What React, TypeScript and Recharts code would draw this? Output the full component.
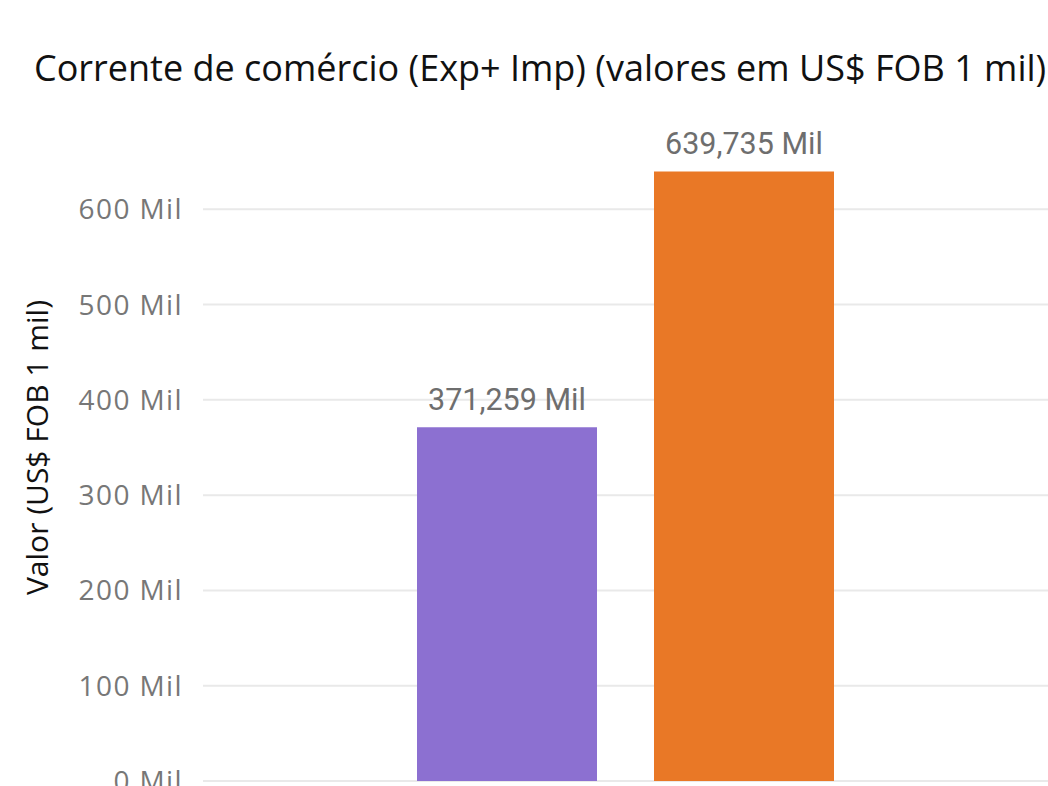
import React from "react";
import { BarChart, Bar, XAxis, YAxis, CartesianGrid, LabelList } from "recharts";

const categories = ["Corrente de comércio"];
const seriesExp = [371.259];
const seriesImp = [639.735];
const yTicks = [0, 100, 200, 300, 400, 500, 600];

const data = categories.map((c, i) => ({ name: c, a: seriesExp[i], b: seriesImp[i] }));

const fmtTick = (v: number) => `${v} Mil`;
const fmtLabel = (v: number) =>
  `${v.toLocaleString("pt-BR", { minimumFractionDigits: 3, maximumFractionDigits: 3 })} Mil`;

export default function App() {
  return (
    <div style={{ position: "fixed", left: 0, top: 0, width: 1048, height: 786, background: "#fff", overflow: "hidden" }}>
      <div
        style={{
          position: "absolute",
          left: 0,
          top: 46,
          width: 1100,
          paddingLeft: 34,
          boxSizing: "border-box",
          fontFamily: "'Open Sans', sans-serif",
          fontSize: 36,
          color: "#111",
          whiteSpace: "nowrap",
          lineHeight: "44px",
        }}
      >
        Corrente de comércio (Exp+ Imp) (valores em US$ FOB 1 mil)
      </div>
      <div style={{ position: "absolute", left: 0, top: 0 }}>
        <BarChart
          width={1048}
          height={786}
          data={data}
          margin={{ top: 114, right: 0, bottom: 5, left: 0 }}
          barCategoryGap={214}
          barGap={57}
        >
          <CartesianGrid vertical={false} stroke="#e9e9e9" strokeWidth={2} horizontalValues={yTicks} />
          <XAxis dataKey="name" hide />
          <YAxis
            domain={[0, 700]}
            ticks={yTicks}
            interval={0}
            tickFormatter={fmtTick}
            axisLine={false}
            tickLine={false}
            width={203}
            tickMargin={14}
            tick={{ fill: "#777", fontSize: 28, letterSpacing: 1.4, fontFamily: "'Open Sans', sans-serif" }}
            label={{
              value: "Valor (US$ FOB 1 mil)",
              angle: -90,
              position: "insideLeft",
              offset: 37,
              style: { textAnchor: "middle", fill: "#111", fontSize: 30, fontFamily: "'Open Sans', sans-serif" },
            }}
          />
          <Bar dataKey="a" fill="#8c70d1" barSize={180} isAnimationActive={false}>
            <LabelList
              dataKey="a"
              position="top"
              offset={17}
              formatter={fmtLabel}
              style={{ fill: "#6e6e6e", fontSize: 30.5, fontFamily: "Roboto, sans-serif" }}
            />
          </Bar>
          <Bar dataKey="b" fill="#e97826" barSize={180} isAnimationActive={false}>
            <LabelList
              dataKey="b"
              position="top"
              offset={17}
              formatter={fmtLabel}
              style={{ fill: "#6e6e6e", fontSize: 30.5, fontFamily: "Roboto, sans-serif" }}
            />
          </Bar>
        </BarChart>
      </div>
    </div>
  );
}
